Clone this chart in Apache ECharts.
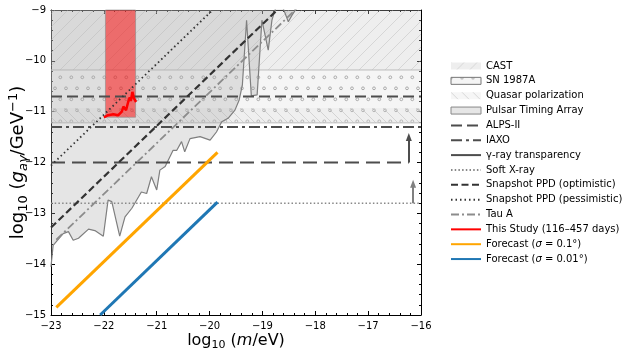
<!DOCTYPE html>
<html>
<head>
<meta charset="utf-8">
<script src="https://cdn.jsdelivr.net/npm/echarts@6/dist/echarts.min.js"></script>
<style>
  html, body { margin: 0; padding: 0; background: #fff; }
  #chart { width: 634px; height: 353px; }
</style>
</head>
<body>
<div id="chart"></div>
<script>
// --- data (log10 units) ---
const massRange = [-23, -16];
const couplingRange = [-15, -9];

const castBand = [-10.18, -9];
const snBand = [-11.22, -10.18];
const quasarBand = [-11.22, -10.93];

const ptaMass = [-23.0, -22.96, -22.77, -22.67, -22.58, -22.48, -22.29, -22.17, -22.01, -21.92, -21.85, -21.70, -21.60, -21.47, -21.29, -21.19, -21.10, -21.00, -20.94, -20.84, -20.69, -20.62, -20.53, -20.47, -20.37, -20.18, -19.99, -19.87, -19.77, -19.65, -19.52, -19.44, -19.38, -19.30, -19.21, -19.10, -19.01, -18.89, -18.82, -18.75, -18.61, -18.51, -18.44, -18.35];
const ptaCoupling = [-14.05, -13.63, -13.40, -13.36, -13.53, -13.49, -13.31, -13.34, -13.45, -12.74, -12.77, -13.45, -13.07, -12.90, -12.58, -12.61, -12.28, -12.54, -12.15, -12.08, -11.76, -11.76, -11.59, -11.79, -11.53, -11.49, -11.56, -11.40, -11.20, -11.13, -10.97, -10.77, -10.48, -9.20, -10.69, -10.67, -9.20, -9.79, -9.20, -8.96, -8.96, -9.23, -9.10, -8.96];

const alpsLevel = -10.7;
const iaxoLevel = -11.3;
const gammaLevel = -12.0;
const xrayLevel = -12.8;
const gammaArrow = { mass: -16.23, from: -12.0, to: -11.5 };
const xrayArrow = { mass: -16.15, from: -12.8, to: -12.42 };

const ppdOptMass = [-23, -18.72];
const ppdOptCoupling = [-13.28, -9];
const ppdPesMass = [-23, -19.94];
const ppdPesCoupling = [-12.06, -9];
const tauMass = [-22.9, -18.38];
const tauCoupling = [-13.52, -9.0];

const studyMass = [-22.00, -21.92, -21.82, -21.73, -21.66, -21.63, -21.58, -21.54, -21.51, -21.49, -21.46, -21.43, -21.39];
const studyCoupling = [-11.11, -11.07, -11.05, -11.07, -11.00, -10.90, -10.97, -10.81, -10.72, -10.79, -10.61, -10.74, -10.81];
const studyBoxMass = [-21.97, -21.40];
const studyBoxCoupling = [-11.11, -9];

const forecast01Mass = [-22.9, -19.85];
const forecast01Coupling = [-14.85, -11.80];
const forecast001Mass = [-22.07, -19.85];
const forecast001Coupling = [-15.0, -12.78];

const FONT = 'DejaVu Sans';
const zip = (xs, ys) => xs.map((x, i) => [x, ys[i]]);
const flat = (level) => [[massRange[0], level], [massRange[1], level]];
const minus = (v) => String(v).replace('-', '\u2212');

// hatch patterns
function hatch(size, dir, bg, fg, lw) {
  const c = document.createElement('canvas');
  c.width = c.height = size;
  const g = c.getContext('2d');
  g.fillStyle = bg; g.fillRect(0, 0, size, size);
  g.strokeStyle = fg; g.lineWidth = lw;
  g.beginPath();
  if (dir === '/') {
    g.moveTo(-1, size + 1); g.lineTo(size + 1, -1);
    g.moveTo(-1, 1); g.lineTo(1, -1);
    g.moveTo(size - 1, size + 1); g.lineTo(size + 1, size - 1);
  } else {
    g.moveTo(-1, -1); g.lineTo(size + 1, size + 1);
    g.moveTo(size - 1, -1); g.lineTo(size + 1, 1);
    g.moveTo(-1, size - 1); g.lineTo(1, size + 1);
  }
  g.stroke();
  return { image: c, repeat: 'repeat' };
}
function circles(bg) {
  const c = document.createElement('canvas');
  c.width = 11; c.height = 22;
  const g = c.getContext('2d');
  g.fillStyle = bg; g.fillRect(0, 0, 11, 22);
  g.strokeStyle = '#9a9a9a'; g.lineWidth = 0.8;
  [[5.3, 11.3], [0, 0.3], [11, 0.3], [0, 22.3], [11, 22.3]].forEach(([x, y]) => {
    g.beginPath(); g.arc(x, y, 1.4, 0, Math.PI * 2); g.stroke();
  });
  return { image: c, repeat: 'repeat' };
}
const castPattern = hatch(13, '/', 'rgba(200,200,200,0.3)', 'rgba(170,170,170,0.45)', 0.8);
const quasarPattern = hatch(11, '\\', 'rgba(220,220,220,0.25)', 'rgba(170,170,170,0.5)', 0.8);
const snPattern = circles('rgba(225,225,225,0.35)');

const chart = echarts.init(document.getElementById('chart'), null, { renderer: 'canvas' });

const axisCommon = {
  type: 'value',
  axisLine: { show: true, onZero: false, lineStyle: { color: '#000', width: 1 } },
  axisTick: { show: true, inside: true, length: 4, lineStyle: { color: '#000' } },
  minorTick: { show: true, splitNumber: 5, length: 2, lineStyle: { color: '#000' } },
  splitLine: { show: false },
  minorSplitLine: { show: false }
};
// rich styles for math-like axis titles (size = main font, sub/sup ~70%)
function mathRich(size) {
  const small = Math.round(size * 0.7);
  const lh = Math.round(size * 1.3);
  return {
    t: { fontFamily: FONT, fontSize: size, lineHeight: lh, color: '#000' },
    it: { fontFamily: FONT, fontSize: size, fontStyle: 'italic', lineHeight: lh, color: '#000' },
    sub: { fontFamily: FONT, fontSize: small, lineHeight: small, verticalAlign: 'bottom', color: '#000' },
    isub: { fontFamily: FONT, fontSize: small, lineHeight: small, fontStyle: 'italic', verticalAlign: 'bottom', color: '#000' },
    sup: { fontFamily: FONT, fontSize: small, lineHeight: small, verticalAlign: 'top', color: '#000' }
  };
}

const lineSeries = (name, data, style, extra) => Object.assign({
  name, type: 'line', data, symbol: 'none', silent: true,
  lineStyle: style
}, extra || {});

// legend entry for a line series: keep the line, hide the symbol dot
const lineEntry = (name, extra) => Object.assign({ name, itemStyle: { opacity: 0 } }, extra || {});

const option = {
  animation: false,
  textStyle: { fontFamily: FONT },
  grid: { left: 51, right: 213, top: 10, bottom: 38, containLabel: false, outerBoundsMode: 'none' },
  xAxis: [
    Object.assign({}, axisCommon, {
      min: massRange[0], max: massRange[1], interval: 1, position: 'bottom',
      axisLabel: { formatter: minus, fontSize: 10, color: '#000', margin: 6 },
      name: '{t|log}{sub|10}{t| (}{it|m}{t|/eV)}',
      nameLocation: 'middle', nameGap: 15, nameMoveOverlap: false,
      nameTextStyle: { rich: mathRich(16) }
    }),
    Object.assign({}, axisCommon, {
      min: massRange[0], max: massRange[1], interval: 1, position: 'top',
      axisLabel: { show: false }
    })
  ],
  yAxis: [
    Object.assign({}, axisCommon, {
      min: couplingRange[0], max: couplingRange[1], interval: 1, position: 'left',
      axisLabel: { formatter: minus, fontSize: 10, color: '#000', margin: 5 },
      name: '{t|log}{sub|10}{t| (}{it|g}{isub|aγ}{t|/GeV}{sup|\u22121}{t|)}',
      nameLocation: 'middle', nameGap: 21, nameMoveOverlap: false,
      nameTextStyle: { rich: mathRich(18) }
    }),
    Object.assign({}, axisCommon, {
      min: couplingRange[0], max: couplingRange[1], interval: 1, position: 'right',
      axisLabel: { show: false }
    })
  ],
  legend: {
    orient: 'vertical', left: 445, top: 55,
    itemWidth: 30, itemHeight: 7, itemGap: 2.85,
    textStyle: {
      fontFamily: FONT, fontSize: 10, color: '#000', lineHeight: 12,
      rich: { i: { fontFamily: FONT, fontSize: 10, fontStyle: 'italic', lineHeight: 12 } }
    },
    formatter: (n) => n.replace('σ', '{i|σ}'),
    data: [
      { name: 'CAST', icon: 'rect', itemStyle: { color: castPattern, borderWidth: 0 } },
      { name: 'SN 1987A', icon: 'rect', itemStyle: { color: snPattern, borderColor: '#777', borderWidth: 1 } },
      { name: 'Quasar polarization', icon: 'rect', itemStyle: { color: quasarPattern, borderWidth: 0 } },
      { name: 'Pulsar Timing Array', icon: 'rect', itemStyle: { color: '#e6e6e6', borderColor: '#888', borderWidth: 1 } },
      lineEntry('ALPS-II'), lineEntry('IAXO'),
      lineEntry('γ-ray transparency', { lineStyle: { type: 'solid' } }),
      lineEntry('Soft X-ray'), lineEntry('Snapshot PPD (optimistic)'), lineEntry('Snapshot PPD (pessimistic)'),
      lineEntry('Tau A'), lineEntry('This Study (116–457 days)'),
      lineEntry('Forecast (σ = 0.1°)'), lineEntry('Forecast (σ = 0.01°)')
    ]
  },
  series: [
    lineSeries('CAST', flat(castBand[0]), { color: '#bdbdbd', width: 1 }, {
      color: '#bdbdbd', z: 1,
      areaStyle: { color: castPattern, origin: 'end', opacity: 1 }
    }),
    lineSeries('SN 1987A', flat(snBand[0]), { color: '#bdbdbd', width: 1 }, {
      color: '#bdbdbd', z: 1,
      markArea: {
        silent: true, z: 1,
        itemStyle: { color: snPattern },
        data: [[{ coord: [massRange[0], snBand[1]] }, { coord: [massRange[1], snBand[0]] }]]
      }
    }),
    lineSeries('Quasar polarization', flat(quasarBand[1]), { opacity: 0 }, {
      z: 1,
      markArea: {
        silent: true, z: 1,
        itemStyle: { color: quasarPattern },
        data: [[{ coord: [massRange[0], quasarBand[1]] }, { coord: [massRange[1], quasarBand[0]] }]]
      }
    }),
    lineSeries('Pulsar Timing Array', zip(ptaMass, ptaCoupling), { color: '#7f7f7f', width: 1.2 }, {
      color: '#7f7f7f', z: 2,
      areaStyle: { color: 'rgba(170,170,170,0.3)', origin: 'end', opacity: 1 }
    }),
    lineSeries('ALPS-II', flat(alpsLevel), { color: '#4d4d4d', width: 2, type: [11, 5] }, { color: '#4d4d4d', z: 3 }),
    lineSeries('IAXO', flat(iaxoLevel), { color: '#4d4d4d', width: 2, type: [11, 4, 3, 4] }, { color: '#4d4d4d', z: 3 }),
    lineSeries('γ-ray transparency', [[massRange[0], gammaLevel], [gammaArrow.mass, gammaLevel]],
      { color: '#4d4d4d', width: 2, type: [14, 7] }, {
        color: '#4d4d4d', z: 3,
        markLine: {
          silent: true, symbol: ['none', 'triangle'], symbolSize: [6, 8],
          label: { show: false },
          lineStyle: { color: '#4d4d4d', width: 2, type: 'solid' },
          data: [[{ coord: [gammaArrow.mass, gammaArrow.from] }, { coord: [gammaArrow.mass, gammaArrow.to] }]]
        }
      }),
    lineSeries('Soft X-ray', flat(xrayLevel), { color: '#888', width: 1.5, type: [1.5, 2.2] }, {
      color: '#888', z: 3,
      markLine: {
        silent: true, symbol: ['none', 'triangle'], symbolSize: [6, 8],
        label: { show: false },
        lineStyle: { color: '#808080', width: 2, type: 'solid' },
        data: [[{ coord: [xrayArrow.mass, xrayArrow.from] }, { coord: [xrayArrow.mass, xrayArrow.to] }]]
      }
    }),
    lineSeries('Snapshot PPD (optimistic)', zip(ppdOptMass, ppdOptCoupling),
      { color: '#333', width: 2.2, type: [7, 3.5] }, { color: '#333', z: 4 }),
    lineSeries('Snapshot PPD (pessimistic)', zip(ppdPesMass, ppdPesCoupling),
      { color: '#333', width: 1.8, type: [1.5, 3] }, { color: '#333', z: 4 }),
    lineSeries('Tau A', zip(tauMass, tauCoupling),
      { color: '#8c8c8c', width: 1.8, type: [8, 3, 2, 3] }, { color: '#8c8c8c', z: 4 }),
    lineSeries('This Study (116–457 days)', zip(studyMass, studyCoupling), { color: 'red', width: 2.5 }, {
      color: 'red', z: 6,
      markArea: {
        silent: true, z: 3,
        itemStyle: { color: 'rgba(255,0,0,0.5)', borderColor: 'rgba(140,140,140,0.6)', borderWidth: 1 },
        data: [[{ coord: [studyBoxMass[0], studyBoxCoupling[1]] }, { coord: [studyBoxMass[1], studyBoxCoupling[0]] }]]
      }
    }),
    lineSeries('Forecast (σ = 0.1°)', zip(forecast01Mass, forecast01Coupling), { color: '#ffa500', width: 3 }, { color: '#ffa500', z: 5 }),
    lineSeries('Forecast (σ = 0.01°)', zip(forecast001Mass, forecast001Coupling), { color: '#1f77b4', width: 3 }, { color: '#1f77b4', z: 5 })
  ]
};

chart.setOption(option);
</script>
</body>
</html>
